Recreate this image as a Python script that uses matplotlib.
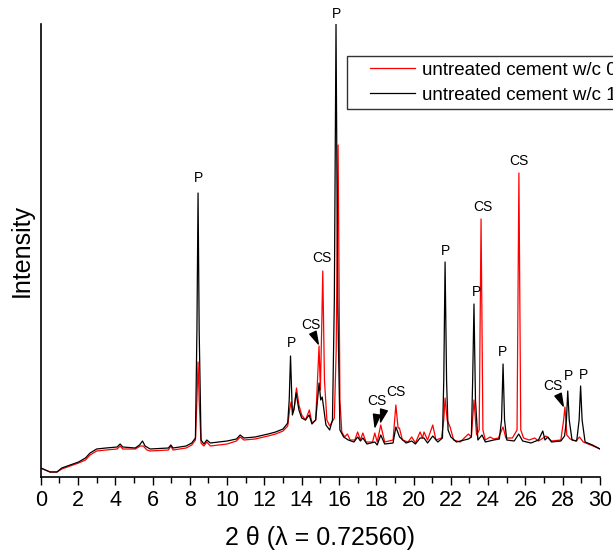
import numpy as np
import matplotlib
matplotlib.use("Agg")
import matplotlib.pyplot as plt
from matplotlib.lines import Line2D
from matplotlib.legend_handler import HandlerLine2D

plt.rcParams["font.family"] = ["Liberation Sans", "DejaVu Sans"]

# 2-theta positions and intensities (arbitrary units)
RED_X = [0.0, 0.5, 0.87, 1.13, 2.03, 2.4, 2.65, 3.0, 3.5, 4.1, 4.26, 4.4, 5.07, 5.35, 5.5, 5.7, 5.87,
         6.85, 6.98, 7.1, 7.8, 8.1, 8.3, 8.38, 8.44, 8.5, 8.6, 8.75, 8.91, 9.1, 10.0, 10.5, 10.7, 10.9,
         11.5, 12.2, 12.6, 13.0, 13.25, 13.35, 13.43, 13.52, 13.6, 13.72, 13.85, 14.0, 14.2, 14.41,
         14.55, 14.75, 14.85, 14.93, 15.0, 15.07, 15.13, 15.22, 15.35, 15.5, 15.75, 15.85, 15.95,
         16.05, 16.15, 16.3, 16.45, 16.6, 16.85, 17.0, 17.15, 17.28, 17.45, 17.8, 17.92, 18.05,
         18.24, 18.45, 18.9, 19.05, 19.17, 19.24, 19.4, 19.7, 19.9, 20.1, 20.35, 20.48, 20.56,
         20.75, 21.03, 21.2, 21.5, 21.62, 21.69, 21.8, 21.96, 22.15, 22.5, 22.94, 23.1, 23.24,
         23.38, 23.52, 23.62, 23.72, 23.85, 24.1, 24.3, 24.55, 24.8, 24.95, 25.3, 25.55, 25.65,
         25.75, 25.9, 26.2, 26.5, 26.7, 26.95, 27.1, 27.4, 27.9, 28.05, 28.12, 28.22, 28.4, 28.7,
         28.9, 29.1, 29.5, 30.0]
RED_Y = [9, 5, 5, 8, 14, 17, 22, 26, 27, 28, 31, 28, 28, 31, 31, 27, 26,
         27, 31, 27, 29, 32, 37, 77, 115, 77, 34, 31, 35, 31, 33, 36, 40, 37,
         38, 41, 43, 46, 51, 67, 75, 65, 69, 89, 72, 62, 57, 67,
         54, 57, 97, 131, 87, 147, 206, 97, 57, 51, 59, 127, 332,
         77, 45, 40, 43, 37, 37, 45, 37, 44, 35, 35, 44, 35,
         52, 35, 37, 72, 49, 49, 37, 35, 40, 34, 45, 39, 45,
         37, 52, 37, 39, 57, 79, 57, 50, 37, 35, 43, 40, 77,
         42, 47, 258, 47, 37, 40, 38, 39, 50, 39, 39, 47, 304,
         47, 39, 37, 39, 36, 39, 41, 36, 37, 57, 70, 42, 38, 36,
         40, 35, 32, 28]

BLACK_X = [0.0, 0.5, 0.87, 1.13, 2.03, 2.4, 2.65, 3.0, 3.5, 4.1, 4.26, 4.4, 5.07, 5.3, 5.46, 5.6,
           5.87, 6.85, 6.98, 7.1, 7.8, 8.1, 8.3, 8.38, 8.44, 8.5, 8.6, 8.75, 8.91, 9.1, 10.0, 10.5,
           10.7, 10.9, 11.5, 12.2, 12.6, 13.0, 13.25, 13.33, 13.4, 13.5, 13.58, 13.7, 13.85, 14.0,
           14.2, 14.4, 14.55, 14.75, 14.93, 15.02, 15.1, 15.3, 15.5, 15.65, 15.75, 15.84, 15.93,
           16.05, 16.25, 16.5, 16.8, 17.0, 17.15, 17.28, 17.5, 17.92, 18.05, 18.24, 18.45, 18.9,
           19.05, 19.25, 19.6, 19.9, 20.1, 20.35, 20.56, 20.75, 21.03, 21.3, 21.55, 21.62, 21.69,
           21.77, 21.85, 22.0, 22.3, 22.94, 23.1, 23.17, 23.24, 23.32, 23.45, 23.67, 23.85, 24.3,
           24.6, 24.72, 24.8, 24.88, 25.0, 25.4, 25.64, 25.85, 26.3, 26.7, 26.93, 27.05, 27.2,
           27.4, 27.9, 28.1, 28.2, 28.27, 28.35, 28.5, 28.75, 28.88, 28.96, 29.04, 29.2, 29.6, 30.0]
BLACK_Y = [9, 5, 5, 9, 15, 19, 24, 28, 29, 30, 33, 30, 29, 32, 36, 31,
           28, 29, 32, 29, 31, 34, 39, 147, 284, 147, 37, 33, 37, 34, 36, 38,
           42, 39, 40, 43, 45, 48, 54, 77, 121, 62, 67, 84, 67, 59,
           57, 62, 53, 57, 94, 77, 80, 52, 47, 57, 177, 453, 177,
           47, 40, 37, 35, 40, 36, 39, 33, 35, 32, 42, 33, 34,
           50, 40, 34, 36, 33, 39, 39, 34, 41, 35, 39, 97, 215,
           97, 47, 40, 35, 38, 40, 97, 173, 77, 37, 42, 35, 37,
           38, 57, 113, 57, 37, 36, 43, 36, 34, 37, 46, 37, 40,
           35, 36, 41, 57, 86, 57, 37, 36, 57, 91, 57, 35, 32, 28]

LABELS = ["untreated cement w/c 0.5", "untreated cement w/c 1"]

# phase markers: (text, 2theta, intensity of label)
PEAK_TAGS = [("P", 8.44, 299), ("P", 13.43, 134), ("CS", 15.08, 219), ("P", 15.84, 463),
             ("P", 21.69, 226), ("P", 23.35, 185), ("CS", 23.72, 270), ("P", 24.79, 125),
             ("CS", 25.65, 316), ("P", 28.33, 101), ("P", 29.13, 102)]
# tags with a little arrow: (text, label x, label y, arrow tail, arrow tip)
ARROW_TAGS = [("CS", 14.49, 152, (14.61, 144), (14.89, 133)),
              ("CS", 18.03, 76, (18.03, 62), (17.93, 50)),
              ("CS", 19.05, 85, (18.41, 67), (18.23, 55)),
              ("CS", 27.47, 91, (27.76, 82), (28.03, 71))]

fig = plt.figure(figsize=(6.13, 5.53), dpi=100)
ax = fig.add_axes([40.7 / 613, 1 - 477 / 553, (600 - 40.7) / 613, (477 - 24) / 553])

ax.plot(RED_X, RED_Y, color="red", lw=0.9, label=LABELS[0])
ax.plot(BLACK_X, BLACK_Y, color="black", lw=0.9, label=LABELS[1])

for txt, x, y in PEAK_TAGS:
    ax.text(x, y, txt, ha="center", va="center", fontsize=10, clip_on=False)
for txt, x, y, tail, tip in ARROW_TAGS:
    ax.text(x, y, txt, ha="center", va="center", fontsize=10)
    ax.annotate("", xy=tip, xytext=tail,
                arrowprops=dict(facecolor="black", edgecolor="black", width=0.01,
                                headwidth=5, headlength=9, shrink=0))

ax.set_xlim(0, 30)
ax.set_ylim(0, 453)
ax.set_xticks(np.arange(0, 31, 2))
ax.set_xticks(np.arange(0, 31, 1), minor=True)
ax.set_yticks([])
ax.tick_params(axis="x", which="major", length=6, width=1, labelsize=15.5, pad=3)
ax.tick_params(axis="x", which="minor", length=4, width=1)
for s in ["top", "right"]:
    ax.spines[s].set_visible(False)
ax.spines["left"].set_linewidth(1.2)
ax.spines["bottom"].set_linewidth(1.2)

ax.set_xlabel("2 \u03b8 (\u03bb = 0.72560)", fontsize=18, labelpad=11)
ax.set_ylabel("Intensity", fontsize=18, labelpad=5)

# the legend box runs past the right edge of the figure, as in the original
leg = ax.legend(loc="upper left", bbox_to_anchor=(347 / 613, 1 - 56 / 553),
                bbox_transform=fig.transFigure, fontsize=13.5, frameon=True, fancybox=False,
                handlelength=3.3, borderpad=0.3, labelspacing=0.42, handletextpad=0.4,
                borderaxespad=0, handler_map={Line2D: HandlerLine2D(xpad=0.9)})
leg.get_frame().set_edgecolor("black")
leg.get_frame().set_linewidth(1.0)

fig.savefig("out.png", dpi=100)
